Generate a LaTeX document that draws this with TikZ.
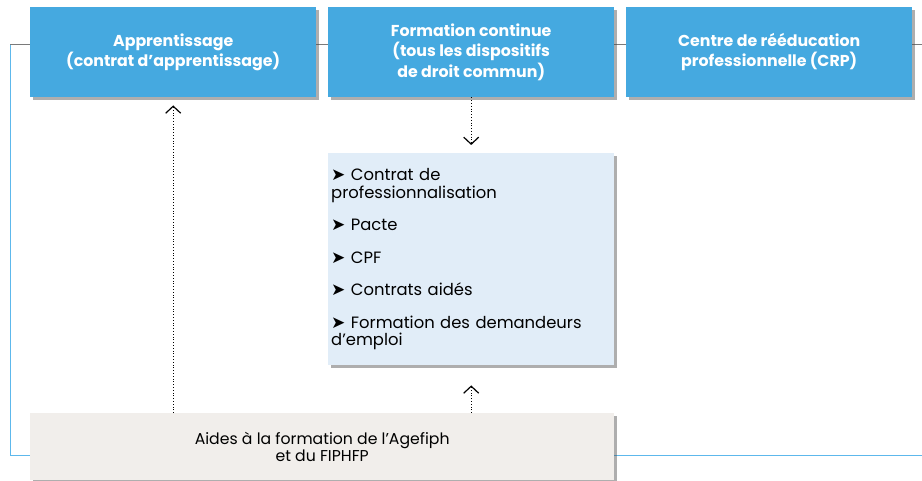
\documentclass[tikz,border=0pt]{standalone}
\usepackage{fontspec}
\setmainfont{Poppins}
\newfontfamily\symfont{DejaVu Sans}
\usetikzlibrary{arrows.meta,shadows}
\definecolor{boxblue}{HTML}{45A9E0}
\definecolor{listbg}{HTML}{E1EDF8}
\definecolor{aidebg}{HTML}{F1EEEB}
\definecolor{rulegray}{HTML}{7A7A7A}
\definecolor{lineblue}{HTML}{5DB8EC}
\newcommand{\puce}{{\symfont\fontsize{17}{17}\selectfont ➤}\ }
\tikzset{
  shadowed/.style={drop shadow={shadow xshift=3pt, shadow yshift=-3pt, opacity=0.45, fill=black!70}},
  topbox/.style={shadowed, fill=boxblue, text=white, font=\bfseries\fontsize{15.8}{20.5}\selectfont,
    minimum width=286pt, minimum height=90pt, inner sep=0pt, align=center, anchor=north west},
  listbox/.style={shadowed, fill=listbg, font=\fontsize{16.4}{17.5}\selectfont,
    minimum width=286pt, minimum height=212pt, text width=280pt, inner sep=3pt, align=left, anchor=north west},
  aidebox/.style={shadowed, fill=aidebg, font=\fontsize{15.7}{17.5}\selectfont,
    minimum width=584pt, minimum height=67pt, inner sep=0pt, align=center, anchor=north west},
  grayrule/.style={draw=rulegray, line width=1pt},
  bluerule/.style={draw=lineblue, line width=1pt},
  dotarrow/.style={draw=black, line width=0.8pt, dotted, -{Straight Barb[length=7pt,width=15pt,line width=1.2pt]}},
}
\begin{document}
\begin{tikzpicture}[x=1pt,y=-1pt]
  \useasboundingbox (0,0) rectangle (922,481);
  \coordinate (ruleL) at (10,45);
  \coordinate (ruleR) at (922,45);
  \coordinate (cornerBL) at (10,455);
  \coordinate (lineR) at (922,455);

  \draw[grayrule] (ruleL)--(ruleR);
  \draw[bluerule] (ruleL)--(cornerBL)--(lineR);

  \node[topbox] (appr) at (30,7) {Apprentissage\\(contrat d’apprentissage)};
  \node[topbox] (formcont) at (328,7) {Formation continue\\(tous les dispositifs\\de droit commun)};
  \node[topbox] (crp) at (626,7) {Centre de rééducation\\professionnelle (CRP)};
  \node[listbox] (dispo) at (328,153) {\puce Contrat de\\professionnalisation\\[15pt]
    \puce Pacte\\[15pt]
    \puce CPF\\[15pt]
    \puce Contrats aidés\\[15pt]
    \puce Formation des demandeurs\\d’emploi};
  \node[aidebox] (aides) at (30,413) {Aides à la formation de l’Agefiph\\et du FIPHFP};

  \draw[dotarrow, shorten >=8pt] (aides.north -| appr.south) -- (appr.south);
  \draw[dotarrow, shorten >=8pt] (formcont.south) -- (dispo.north);
  \draw[dotarrow, shorten >=20pt] (aides.north -| dispo.south) -- (dispo.south);
\end{tikzpicture}
\end{document}
